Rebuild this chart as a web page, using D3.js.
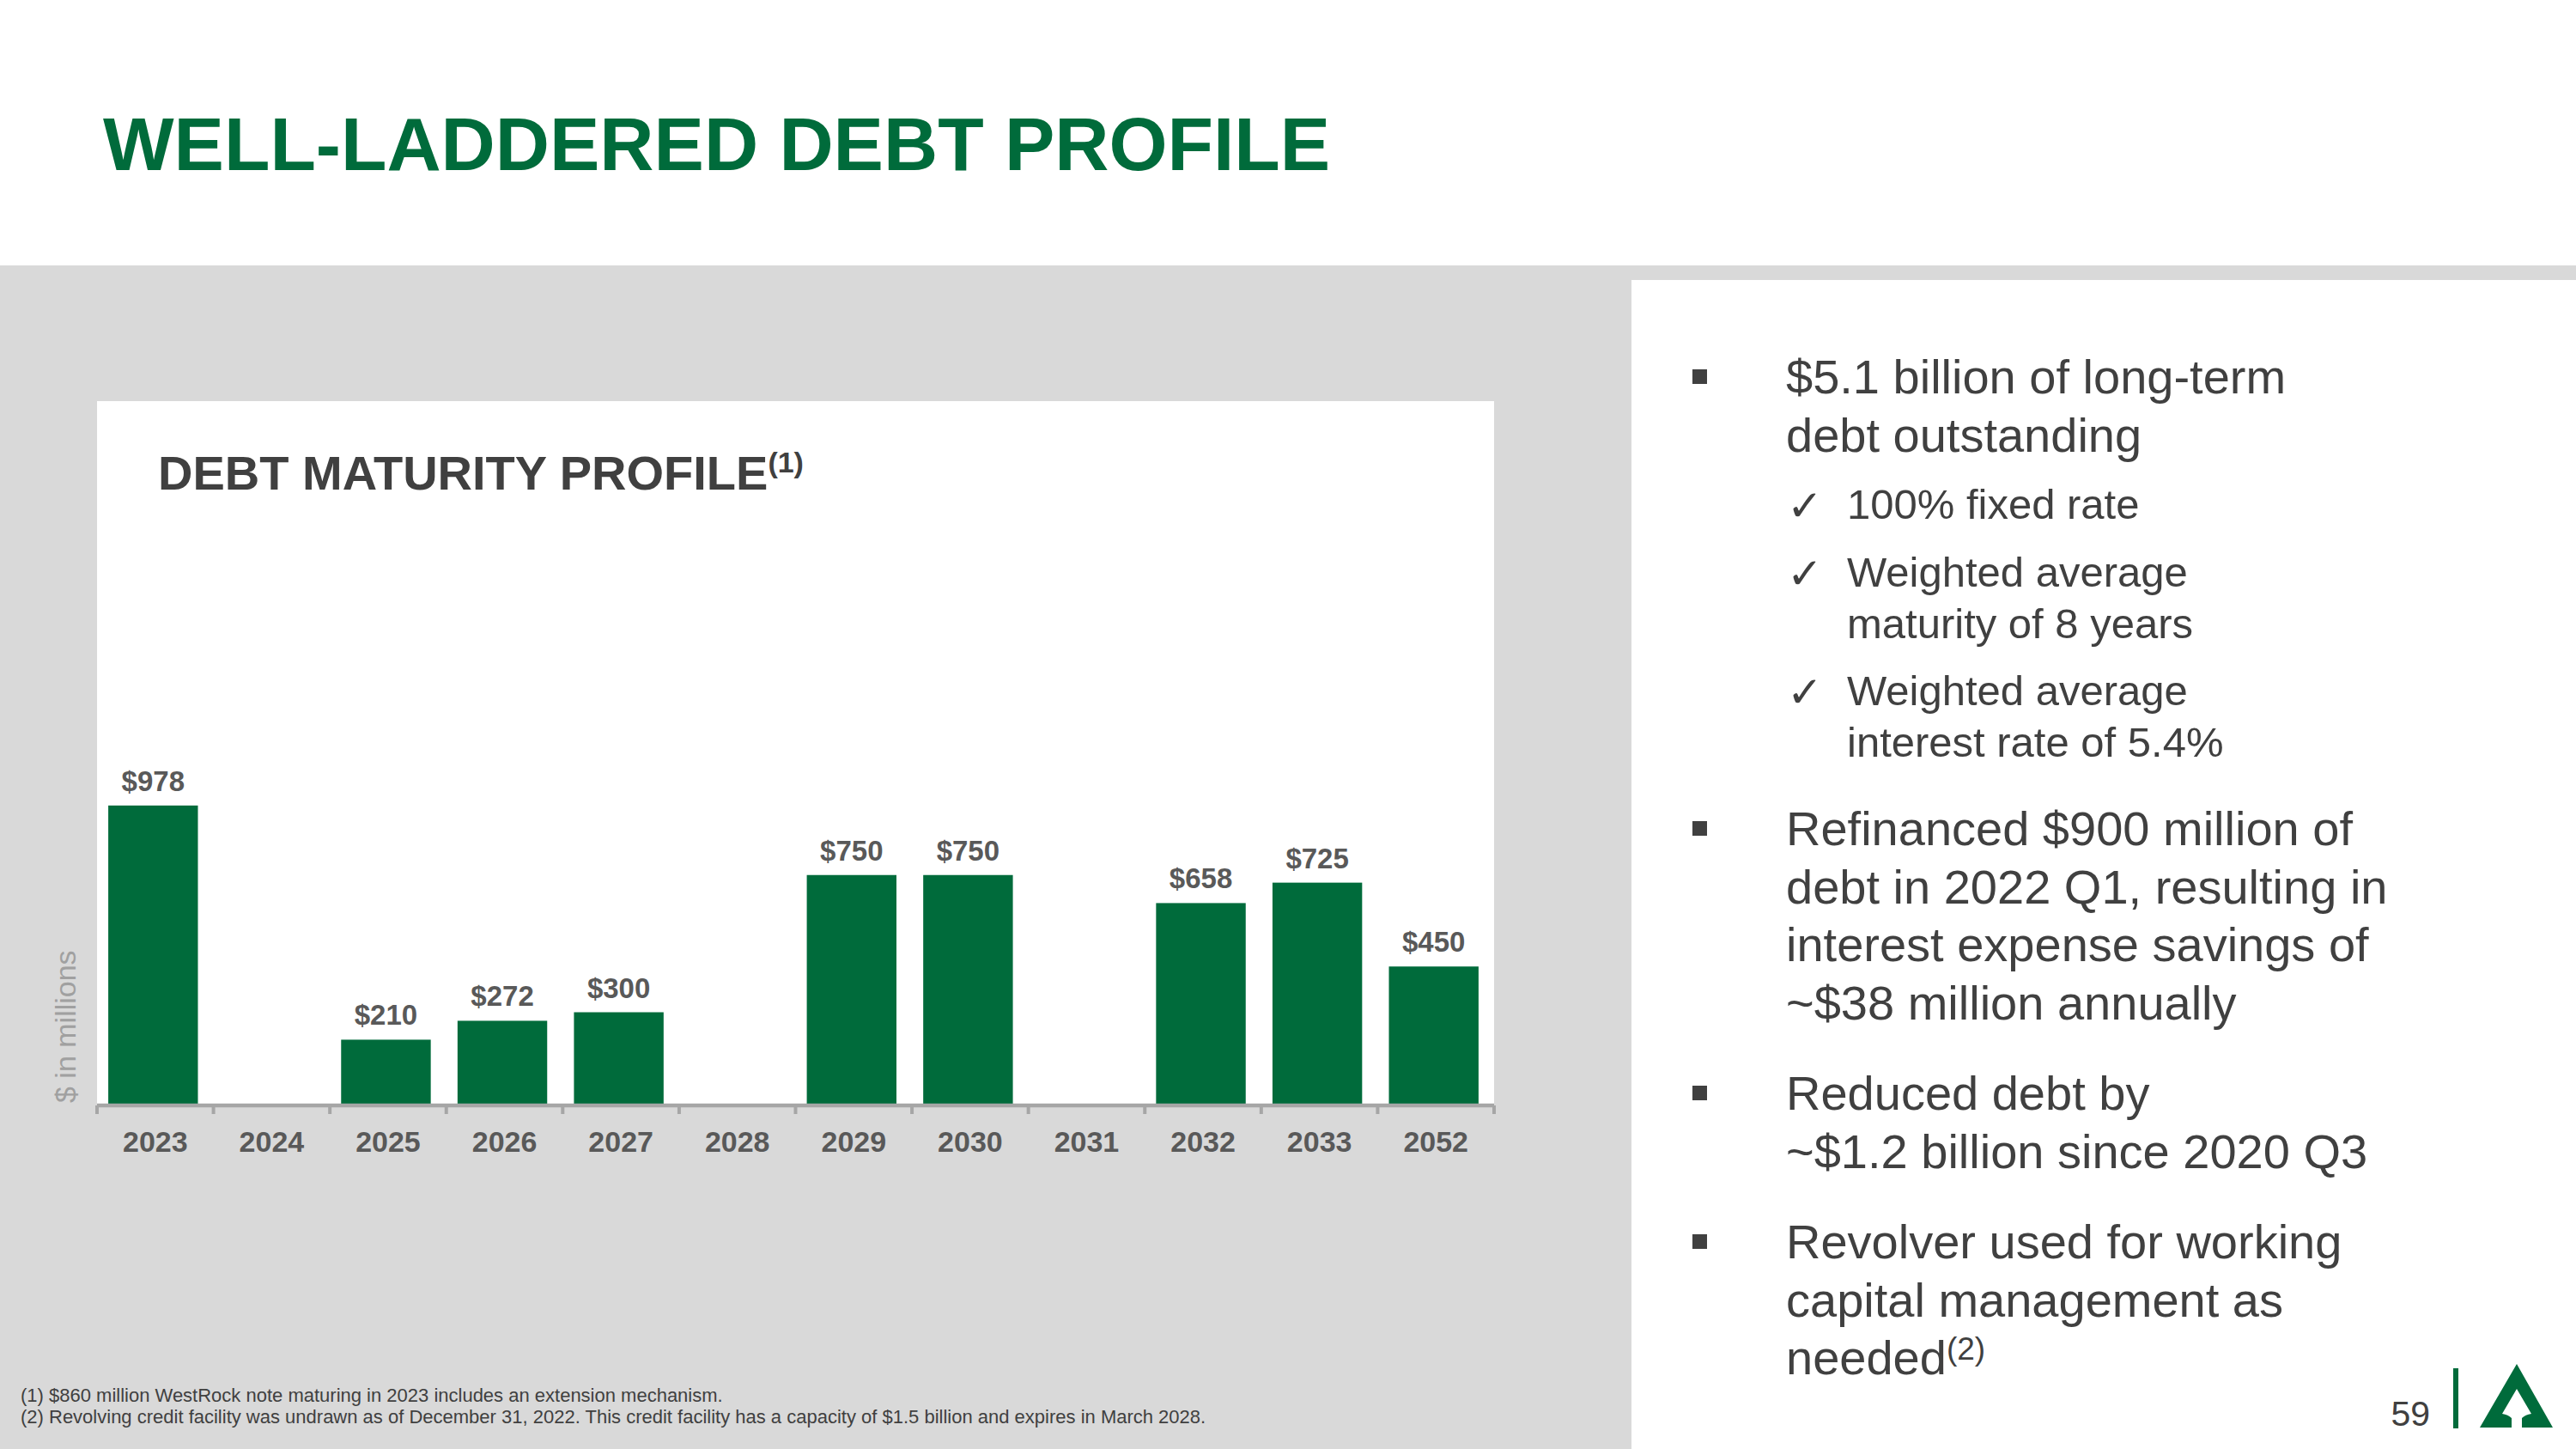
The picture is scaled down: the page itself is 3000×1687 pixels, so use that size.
<!DOCTYPE html>
<html>
<head>
<meta charset="utf-8">
<script src="https://cdn.jsdelivr.net/npm/d3@7"></script>
<style>
  html, body { margin: 0; padding: 0; background: #fff; }
  svg { display: block; }
  text { font-family: "Liberation Sans", Arial, sans-serif; }
</style>
</head>
<body>
<svg id="slide" width="3000" height="1687"></svg>
<script>
// ---- data ----
const categories = ["2023", "2024", "2025", "2026", "2027", "2028", "2029", "2030", "2031", "2032", "2033", "2052"];
const values     = [978, null, 210, 272, 300, null, 750, 750, null, 658, 725, 450];
const valueLabels = ["$978", "", "$210", "$272", "$300", "", "$750", "$750", "", "$658", "$725", "$450"];

const slideTitle = "WELL-LADDERED DEBT PROFILE";
const chartTitle = "DEBT MATURITY PROFILE";
const chartTitleNote = "(1)";
const yAxisTitle = "$ in millions";

const bullets = [
  { lines: ["$5.1 billion of long-term", "debt outstanding"], sup: "" },
  { lines: ["Refinanced $900 million of", "debt in 2022 Q1, resulting in", "interest expense savings of", "~$38 million annually"], sup: "" },
  { lines: ["Reduced debt by", "~$1.2 billion since 2020 Q3"], sup: "" },
  { lines: ["Revolver used for working", "capital management as", "needed"], sup: "(2)" }
];
const subBullets = [
  ["100% fixed rate"],
  ["Weighted average", "maturity of 8 years"],
  ["Weighted average", "interest rate of 5.4%"]
];
const footnotes = [
  "(1) $860 million WestRock note maturing in 2023 includes an extension mechanism.",
  "(2) Revolving credit facility was undrawn as of December 31, 2022. This credit facility has a capacity of $1.5 billion and expires in March 2028."
];
const pageNumber = "59";

// ---- styles ----
const GREEN = "#006B3B";
const GRAY_BG = "#D9D9D9";
const DARK = "#404040";
const LABEL = "#595959";
const AXIS = "#A6A6A6";

const svg = d3.select("#slide");

// backgrounds
svg.append("rect").attr("x", 0).attr("y", 0).attr("width", 3000).attr("height", 1687).attr("fill", "#fff");
svg.append("rect").attr("x", 0).attr("y", 309).attr("width", 3000).attr("height", 1378).attr("fill", GRAY_BG);
svg.append("rect").attr("x", 1900).attr("y", 326).attr("width", 1100).attr("height", 1361).attr("fill", "#fff");

// slide title
svg.append("text").attr("x", 120).attr("y", 198)
  .attr("font-size", 87.5).attr("font-weight", "bold").attr("fill", GREEN)
  .text(slideTitle);

// chart box
const box = { x0: 113, x1: 1740, y0: 467, y1: 1287 };
svg.append("rect").attr("x", box.x0).attr("y", box.y0)
  .attr("width", box.x1 - box.x0).attr("height", box.y1 - box.y0).attr("fill", "#fff");

// chart title
const ct = svg.append("text").attr("x", 184).attr("y", 570)
  .attr("font-size", 56).attr("font-weight", "bold").attr("fill", DARK);
ct.append("tspan").text(chartTitle);
ct.append("tspan").attr("font-size", 34).attr("dy", -20).text(chartTitleNote);

// scales
const x = d3.scaleBand().domain(categories).range([box.x0, box.x1])
  .paddingInner(0.23).paddingOuter(0.115);
const y = d3.scaleLinear().domain([0, 1000]).range([1285, 930]);

const data = categories.map((c, i) => ({ c, v: values[i], label: valueLabels[i] }));
const barShift = -2.5;

// bars
svg.append("g").selectAll("rect").data(data.filter(d => d.v != null)).join("rect")
  .attr("x", d => x(d.c) + barShift)
  .attr("y", d => y(d.v))
  .attr("width", x.bandwidth())
  .attr("height", d => y(0) - y(d.v))
  .attr("fill", GREEN);

// value labels
svg.append("g").selectAll("text").data(data.filter(d => d.v != null)).join("text")
  .attr("x", d => x(d.c) + barShift + x.bandwidth() / 2)
  .attr("y", d => y(d.v) - 17)
  .attr("text-anchor", "middle")
  .attr("font-size", 33).attr("font-weight", "bold").attr("fill", LABEL)
  .text(d => d.label);

// x axis
const axisY = 1287;
const axisG = svg.append("g").attr("transform", `translate(0,${axisY})`)
  .call(d3.axisBottom(x).tickSize(0).tickPadding(0));
axisG.select(".domain").remove();
axisG.selectAll(".tick text")
  .attr("y", 54).attr("dy", 0)
  .attr("font-family", "'Liberation Sans', Arial, sans-serif")
  .attr("font-size", 34).attr("font-weight", "bold").attr("fill", LABEL);
axisG.append("line").attr("x1", box.x0).attr("x2", box.x1).attr("y1", 0).attr("y2", 0)
  .attr("stroke", AXIS).attr("stroke-width", 4.5);
const boundaries = d3.range(categories.length + 1).map(i => box.x0 + i * (box.x1 - box.x0) / categories.length);
axisG.selectAll("line.bnd").data(boundaries).join("line").attr("class", "bnd")
  .attr("x1", d => d).attr("x2", d => d).attr("y1", 0).attr("y2", 10)
  .attr("stroke", AXIS).attr("stroke-width", 4);

// y axis title
svg.append("text").attr("transform", "translate(88,1284) rotate(-90)")
  .attr("font-size", 34).attr("fill", "#A0A0A0")
  .text(yAxisTitle);

// right panel bullets
const textX = 2080, squareX = 1971, lineH = 67.5;
const bulletStarts = [458, 984, 1292, 1465];
bullets.forEach((b, bi) => {
  const base = bulletStarts[bi];
  svg.append("rect").attr("x", squareX).attr("y", base - 28).attr("width", 17).attr("height", 17).attr("fill", DARK);
  b.lines.forEach((ln, li) => {
    const t = svg.append("text").attr("x", textX).attr("y", base + li * lineH)
      .attr("font-size", 56).attr("fill", DARK);
    t.append("tspan").text(ln);
    if (li === b.lines.length - 1 && b.sup) {
      t.append("tspan").attr("font-size", 37).attr("dy", -17).text(b.sup);
    }
  });
});

// sub bullets with check marks
const subStarts = [604, 683, 821];
const subLineH = 60;
subBullets.forEach((s, si) => {
  const base = subStarts[si];
  svg.append("text").attr("x", 2081).attr("y", base + 2)
    .attr("font-family", "'DejaVu Sans', sans-serif").attr("font-size", 50).attr("fill", DARK)
    .text("\u2713");
  s.forEach((ln, li) => {
    svg.append("text").attr("x", 2151).attr("y", base + li * subLineH)
      .attr("font-size", 49).attr("fill", DARK).text(ln);
  });
});

// footnotes
footnotes.forEach((f, i) => {
  svg.append("text").attr("x", 24).attr("y", 1632 + i * 25)
    .attr("font-size", 22).attr("fill", DARK).text(f);
});

// page number + divider + logo
svg.append("text").attr("x", 2830).attr("y", 1660).attr("text-anchor", "end")
  .attr("font-size", 41).attr("fill", DARK).text(pageNumber);
svg.append("rect").attr("x", 2857).attr("y", 1593).attr("width", 6).attr("height", 70).attr("fill", GREEN);
svg.append("path")
  .attr("d", "M2931,1588 L2973,1662 L2937,1662 L2937,1651 Q2941,1647 2948,1646 L2931,1617 L2914,1646 Q2921,1647 2925,1651 L2925,1662 L2888,1662 Z")
  .attr("fill", GREEN);
</script>
</body>
</html>
